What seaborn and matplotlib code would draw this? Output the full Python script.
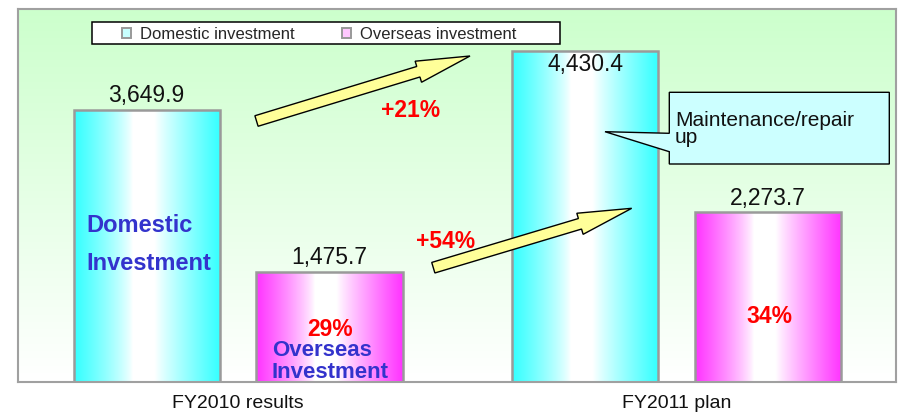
import numpy as np
import pandas as pd
import matplotlib
matplotlib.use("Agg")
import matplotlib.pyplot as plt
import seaborn as sns
from matplotlib.patches import Patch, Polygon, Rectangle
from matplotlib.transforms import Affine2D
from matplotlib.colors import to_rgb

# ---- data -------------------------------------------------------------
periods = ["FY2010 results", "FY2011 plan"]
series = ["Domestic investment", "Overseas investment"]
domestic = [3649.9, 4430.4]
overseas = [1475.7, 2273.7]

# ---- styling ------------------------------------------------------------
sns.set_style("white")
plt.rcParams["font.family"] = ["Liberation Sans", "DejaVu Sans"]

CYAN = "#33ffff"
MAGENTA = "#ff33ff"
BLUE_TXT = "#3333cc"
RED_TXT = "#ff0000"
ARROW_FILL = "#ffff99"

W_PX, H_PX, DPI = 920, 413, 100
fig = plt.figure(figsize=(W_PX / DPI, H_PX / DPI), dpi=DPI)
fig.patch.set_facecolor("white")
ax = fig.add_axes([17.5 / W_PX, 1 - 381.5 / H_PX,
                   (896.5 - 17.5) / W_PX, (381.5 - 9) / H_PX])

# pixel coordinates measured from the top-left corner of the figure
pix = Affine2D().scale(1 / DPI, -1 / DPI).translate(0, H_PX / DPI) + fig.dpi_scale_trans

XLIM = (-0.503, 1.501)
YLIM = (0, 5000)

df = pd.DataFrame({
    "period": periods * 2,
    "series": [series[0]] * len(periods) + [series[1]] * len(periods),
    "value": domestic + overseas,
})

sns.barplot(data=df, x="period", y="value", hue="series",
            order=periods, hue_order=series, palette=[CYAN, MAGENTA],
            width=0.834, gap=0.2, saturation=1, errorbar=None,
            edgecolor="#9a9a9a", linewidth=1.8, legend=False, ax=ax)


def vertical_gradient(top, bottom, n=256):
    t = np.linspace(0, 1, n)[:, None]
    top, bottom = np.array(to_rgb(top)), np.array(to_rgb(bottom))
    return (top * (1 - t) + bottom * t)[:, None, :]


def bar_gradient(base, n=256):
    t = np.linspace(0, 1, n)
    w = np.where(t < 0.4, np.clip((0.4 - t) / 0.4, 0, 1) ** 0.8,
                 np.where(t > 0.55, np.clip((t - 0.55) / 0.45, 0, 1) ** 0.9, 0.0))
    base = np.array(to_rgb(base))
    rgb = np.ones(3) * (1 - w[:, None]) + base * w[:, None]
    return rgb[None, :, :]


# plot-area background: pale green fading to white
ax.imshow(vertical_gradient("#ccffcc", "#ffffff"),
          extent=(XLIM[0], XLIM[1], YLIM[0], YLIM[1]),
          aspect="auto", zorder=0, interpolation="bilinear")

# horizontal "cylinder" shading inside each bar, value labels on top
for container, color in zip(ax.containers, [CYAN, MAGENTA]):
    for patch in container:
        bb = patch.get_bbox()
        im = ax.imshow(bar_gradient(color), extent=(bb.x0, bb.x1, bb.y0, bb.y1),
                       aspect="auto", zorder=1.5, interpolation="bilinear")
        im.set_clip_path(patch)
        patch.set_facecolor("none")
        patch.set_zorder(2)
    texts = ax.bar_label(container, labels=[f"{v:,.1f}" for v in container.datavalues],
                         padding=1.5, fontsize=16.5, color="#111111")
    # labels of bars reaching the top of the plot go just inside the bar
    for txt, v in zip(texts, container.datavalues):
        if v > 0.85 * YLIM[1]:
            txt.xyann = (0, -18)

ax.set_xlim(*XLIM)
ax.set_ylim(*YLIM)
ax.set_yticks([])
ax.set_xlabel("")
ax.set_ylabel("")
ax.tick_params(axis="x", length=0, pad=10, labelsize=14, labelcolor="#111111")
for spine in ax.spines.values():
    spine.set_visible(True)
    spine.set_color("#a0a0a0")
    spine.set_linewidth(1.5)

# legend in a white box at the top
ax.add_patch(Rectangle((91.7, 22), 468.3, 22, transform=pix, facecolor="white",
                       edgecolor="black", linewidth=1.1, zorder=5.5))
handles = [Patch(facecolor="#c8ffff", edgecolor="#999999", linewidth=1.4, label=series[0]),
           Patch(facecolor="#ffc8ff", edgecolor="#999999", linewidth=1.4, label=series[1])]
leg = ax.legend(handles=handles, ncol=2, loc="center left",
                bbox_to_anchor=(122, 34.5), bbox_transform=pix,
                frameon=False, borderpad=0, borderaxespad=0, fontsize=12,
                handlelength=0.55, handleheight=0.55, handletextpad=0.55,
                columnspacing=2.8)
leg.set_zorder(6)


def arrow_polygon(tail, tip, shaft_w, head_w, head_len):
    tail, tip = np.array(tail, float), np.array(tip, float)
    u = (tip - tail) / np.hypot(*(tip - tail))
    n = np.array([-u[1], u[0]])
    base = tip - u * head_len
    return [tail + n * shaft_w / 2, base + n * shaft_w / 2, base + n * head_w / 2,
            tip, base - n * head_w / 2, base - n * shaft_w / 2, tail - n * shaft_w / 2]


# growth arrows between the two years
for tail, tip in [((256.5, 121), (470, 56)), ((433.3, 267.7), (631.7, 208.3))]:
    fig.add_artist(Polygon(arrow_polygon(tail, tip, 11, 22, 54), closed=True,
                           transform=pix, facecolor=ARROW_FILL, edgecolor="black",
                           linewidth=1.0, zorder=3))

# callout box
fig.add_artist(Polygon([(669.3, 92.3), (889.3, 92.3), (889.3, 164), (669.3, 164),
                        (669.3, 151.7), (605, 131.7), (669.3, 133.3)], closed=True,
                       transform=pix, facecolor="#ccffff", edgecolor="black",
                       linewidth=1.0, zorder=3))
fig.text(675, 125.7, "Maintenance/repair", transform=pix, fontsize=15,
         color="#111111", va="baseline", ha="left", zorder=4)
fig.text(675, 143.3, "up", transform=pix, fontsize=15,
         color="#111111", va="baseline", ha="left", zorder=4)

# growth rates and overseas shares, computed from the series
dom_growth = f"+{(domestic[1] / domestic[0] - 1) * 100:.0f}%"
ovs_growth = f"+{(overseas[1] / overseas[0] - 1) * 100:.0f}%"
shares = [f"{o / (d + o) * 100:.0f}%" for d, o in zip(domestic, overseas)]

red = dict(transform=pix, fontsize=16.5, fontweight="bold", color=RED_TXT,
           ha="center", va="baseline", zorder=4)
fig.text(410.3, 116.7, dom_growth, **red)
fig.text(446, 248.3, ovs_growth, **red)
fig.text(330.5, 335.5, shares[0], **red)
fig.text(769, 322.7, shares[1], **red)

blue = dict(transform=pix, fontweight="bold", color=BLUE_TXT,
            ha="left", va="baseline", zorder=4)
fig.text(86.7, 231.7, "Domestic", fontsize=17, **blue)
fig.text(86.7, 270, "Investment", fontsize=17, **blue)
fig.text(271.7, 356, "Overseas", fontsize=16, **blue)
fig.text(271.7, 378, "Investment", fontsize=16, **blue)

fig.savefig("out.png", dpi=DPI)
